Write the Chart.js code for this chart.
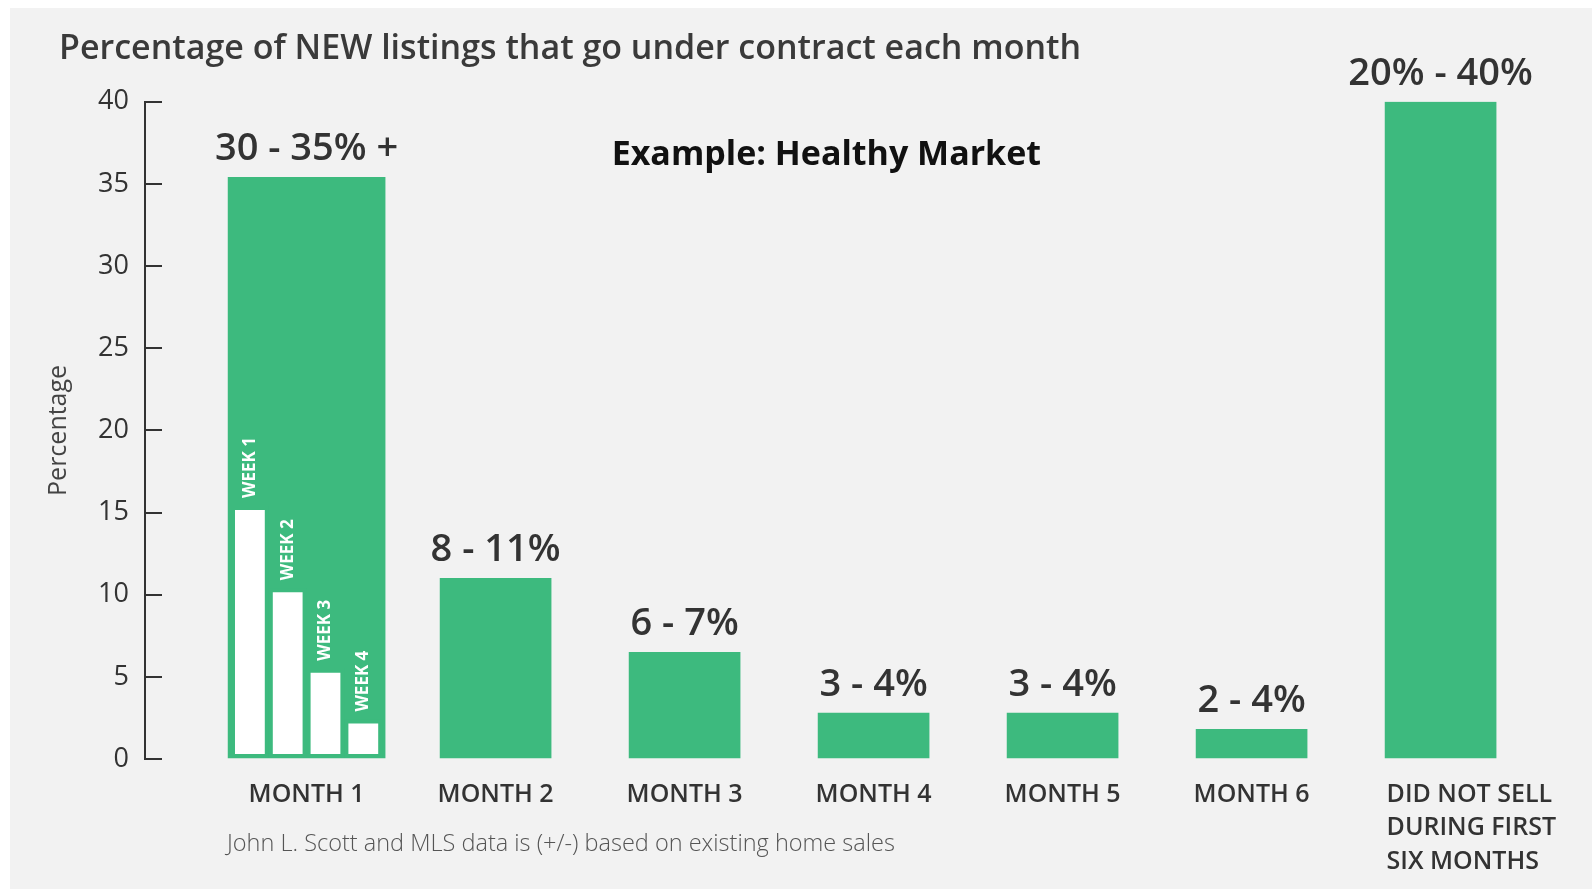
<!DOCTYPE html>
<html>
<head>
<meta charset="utf-8">
<title>Percentage of NEW listings that go under contract each month</title>
<script src="https://cdn.jsdelivr.net/npm/chart.js@4.4.1/dist/chart.umd.min.js"></script>
<style>
  html, body { margin: 0; padding: 0; background: #fff; }
  #panel { position: absolute; left: 10px; top: 8px; width: 1582px; height: 881px; background: #f2f2f2; }
  canvas { display: block; }
</style>
</head>
<body>
<div id="panel"><canvas id="contractChart" width="1582" height="881"></canvas></div>
<script>
// x axis categories (the last one is wrapped over three lines)
const categories = ["MONTH 1", "MONTH 2", "MONTH 3", "MONTH 4", "MONTH 5", "MONTH 6",
    ["DID NOT SELL", "DURING FIRST", "SIX MONTHS"]];
// bar heights in percent
const contractShare = [35.4, 11, 6.5, 2.8, 2.8, 1.8, 40];
// range text printed above every bar
const rangeLabels = ["30 - 35% +", "8 - 11%", "6 - 7%", "3 - 4%", "3 - 4%", "2 - 4%", "20% - 40%"];
// weekly split inside month 1
const weekNames = ["WEEK 1", "WEEK 2", "WEEK 3", "WEEK 4"];
const weekShare = [15.4, 10.4, 5.5, 2.4];
// y axis
const yMin = 0;
const yMax = 40;
const yStep = 5;

const GREEN = "#3dba7e";
const TEXT = "#333333";
const FONT = "'Open Sans', 'Noto Sans', sans-serif";
const LAST = categories.length - 1;

const tickFont = { family: FONT, size: 25, weight: "600", lineHeight: 1.34 };

// draws the range labels, week names, the "Example" note and the source line
const annotationPlugin = {
    id: "barAnnotations",
    afterDatasetsDraw(chart) {
        const ctx = chart.ctx;
        const xScale = chart.scales.x;
        const yScale = chart.scales.y;
        const area = chart.chartArea;

        ctx.save();

        // range labels over the green bars
        const greenBars = chart.getDatasetMeta(4).data.concat(chart.getDatasetMeta(5).data);
        ctx.fillStyle = TEXT;
        ctx.font = "600 38px " + FONT;
        ctx.textAlign = "center";
        ctx.textBaseline = "middle";
        greenBars.forEach((bar, i) => {
            ctx.fillText(rangeLabels[i], bar.x, bar.y - 28);
        });

        // week names, rotated, above each white bar
        ctx.fillStyle = "#ffffff";
        ctx.font = "700 17px " + FONT;
        ctx.textAlign = "left";
        weekNames.forEach((name, k) => {
            const bar = chart.getDatasetMeta(k).data[0];
            ctx.save();
            ctx.translate(bar.x, bar.y - 8);
            ctx.rotate(-Math.PI / 2);
            ctx.fillText(name, 0, 0);
            ctx.restore();
        });

        // example note
        ctx.fillStyle = "#111111";
        ctx.font = "700 34px " + FONT;
        ctx.textAlign = "center";
        ctx.fillText("Example: Healthy Market", xScale.getPixelForValue(2.75), yScale.getPixelForValue(36.75));

        // source line
        ctx.fillStyle = "#555555";
        ctx.font = "300 23.5px " + FONT;
        ctx.textAlign = "left";
        ctx.fillText("John L. Scott and MLS data is (+/-) based on existing home sales", area.left + 82, area.bottom + 85);

        ctx.restore();
    }
};

const weekDatasets = weekShare.map((value, k) => ({
    label: weekNames[k],
    data: [{ x: 0, y: value }],
    backgroundColor: "#ffffff",
    borderColor: GREEN,
    borderWidth: 4,
    borderSkipped: false,
    grouped: true,
    categoryPercentage: 0.8,
    barPercentage: 1,
    order: 0
}));

const ctx = document.getElementById("contractChart").getContext("2d");

new Chart(ctx, {
    type: "bar",
    data: {
        datasets: weekDatasets.concat([
            {
                label: "Month 1",
                data: [{ x: 0, y: contractShare[0] }],
                backgroundColor: GREEN,
                barThickness: 157,
                grouped: false,
                order: 1
            },
            {
                label: "Later",
                data: contractShare.slice(1).map((v, i) => ({ x: i + 1, y: v })),
                backgroundColor: GREEN,
                barThickness: 111,
                grouped: false,
                order: 1
            }
        ])
    },
    options: {
        responsive: false,
        animation: false,
        layout: { padding: { left: 49, right: 52, top: 0, bottom: 0 } },
        plugins: {
            legend: { display: false },
            tooltip: { enabled: false },
            title: {
                display: true,
                text: "Percentage of NEW listings that go under contract each month",
                align: "start",
                color: "#3a3a3a",
                font: { family: FONT, size: 34, weight: "600" },
                padding: { top: 21, bottom: 32 }
            }
        },
        scales: {
            // month labels, centred under the bars
            x: {
                type: "linear",
                min: -0.855,
                max: 6.526,
                offset: false,
                afterBuildTicks: (scale) => {
                    scale.ticks = categories.slice(0, LAST).map((_, i) => ({ value: i }));
                },
                afterFit: (scale) => { scale.height = 130; },
                grid: { display: false, drawTicks: false },
                border: { display: false },
                ticks: {
                    color: TEXT,
                    padding: 19,
                    font: tickFont,
                    callback: (value) => categories[value]
                }
            },
            // the last category, left aligned with its bar, hung on the zero line
            xLast: {
                type: "linear",
                axis: "x",
                position: { y: yMin },
                min: -0.855,
                max: 6.526,
                offset: false,
                afterBuildTicks: (scale) => {
                    scale.ticks = [{ value: LAST }];
                },
                afterFit: (scale) => {
                    scale.paddingLeft = 0;
                    scale.paddingRight = 0;
                },
                grid: { display: false, drawTicks: false },
                border: { display: false },
                ticks: {
                    color: TEXT,
                    padding: 19,
                    align: "start",
                    autoSkip: false,
                    labelOffset: -54,
                    font: tickFont,
                    callback: (value) => categories[value]
                }
            },
            y: {
                min: yMin,
                max: yMax,
                afterFit: (scale) => { scale.width = 86; },
                title: {
                    display: true,
                    text: "Percentage",
                    color: "#444444",
                    font: { family: FONT, size: 25, weight: "400" },
                    padding: { top: -15, bottom: 0 }
                },
                grid: {
                    display: true,
                    drawOnChartArea: false,
                    drawTicks: true,
                    tickLength: -17,
                    color: TEXT,
                    lineWidth: 2
                },
                border: { display: true, color: TEXT, width: 2 },
                ticks: {
                    stepSize: yStep,
                    padding: 33,
                    color: TEXT,
                    font: { family: FONT, size: 27, weight: "400" }
                }
            }
        }
    },
    plugins: [annotationPlugin]
});
</script>
</body>
</html>
